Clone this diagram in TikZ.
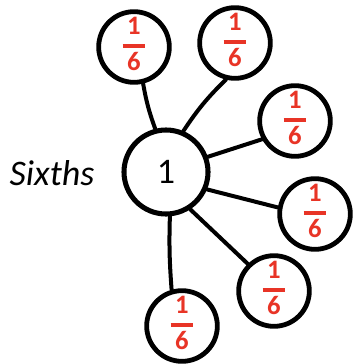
\documentclass[tikz,border=0pt]{standalone}
\usepackage{fontspec}
\setmainfont{Carlito}
\definecolor{fracred}{RGB}{232,52,38}
\newcommand{\onesixth}{\textcolor{fracred}{\bfseries\fontsize{20pt}{20pt}\selectfont\begin{tabular}{@{}c@{}}1\\[-10pt]\rule{17pt}{2.8pt}\\[-3pt]6\end{tabular}}}
\begin{document}
\begin{tikzpicture}[x=0.75pt,y=-0.75pt,
  part/.style={draw=black,line width=3.6pt,circle,minimum size=53pt,inner sep=0pt},
  whole/.style={draw=black,line width=3.8pt,circle,minimum size=63pt,inner sep=0pt,font=\fontsize{27pt}{27pt}\selectfont},
  link/.style={draw=black,line width=3pt,line cap=round}]
\useasboundingbox (0,0) rectangle (354,364);
\node[whole] (m) at (166,172) {1};
\node[font=\itshape\fontsize{27pt}{27pt}\selectfont] (lab) at (52,173) {Sixths};
\node[part] (c1) at (134,47) {\onesixth};
\node[part] (c2) at (235,43) {\onesixth};
\node[part] (c3) at (295,121) {\onesixth};
\node[part] (c4) at (315,214) {\onesixth};
\node[part] (c5) at (274,291) {\onesixth};
\node[part] (c6) at (182,326) {\onesixth};
\draw[link] (c1.-76) to[bend right=5] (m.104);
\draw[link] (c2.-104) to[bend right=6] (m.67);
\draw[link] (c3.-151) -- (m.20);
\draw[link] (c4.170) -- (m.-23);
\draw[link] (c5.134) -- (m.-57);
\draw[link] (c6.106) to[bend left=3] (m.-85);
\end{tikzpicture}
\end{document}
